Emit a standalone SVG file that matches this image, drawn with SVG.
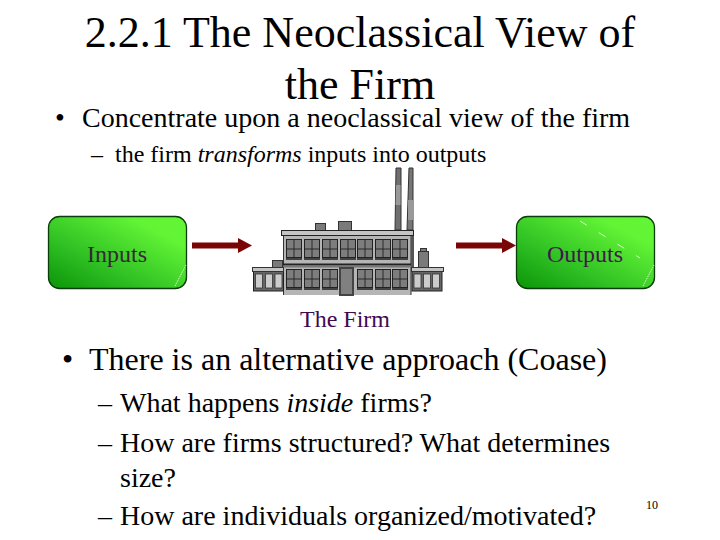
<svg xmlns="http://www.w3.org/2000/svg" width="720" height="540" viewBox="0 0 720 540">
<style>
text{font-family:"Liberation Serif","Times New Roman",serif;fill:#000}
.t{font-size:44px}.b{font-size:28px}.s{font-size:24px}.m{font-size:32px}.n{font-size:28px}.lb{font-size:24px}
.box{stroke:#0b3d0b;stroke-width:1.3}
.d{fill:#7a7a7a;stroke:#333;stroke-width:1}
.w{fill:#7d7d7d;stroke:#222;stroke-width:1}
.wl{stroke:#222;stroke-width:.9}
.sill{stroke:#111;stroke-width:1.4}
.p{fill:#ccc;stroke:#333;stroke-width:.8}
</style>
<defs>
<linearGradient id="gr" x1="0" y1="1" x2="1" y2="0"><stop offset="0" stop-color="#0b9408"/><stop offset=".35" stop-color="#2fc024"/><stop offset=".8" stop-color="#63f535"/><stop offset="1" stop-color="#62f636"/></linearGradient>
<marker id="ah" markerWidth="14" markerHeight="16" refX="0" refY="8" orient="auto" markerUnits="userSpaceOnUse"><path d="M0,0.500L14,8L0,15.500Z" fill="#7a0505"/></marker>
<g id="win"><rect class="w" width="15" height="18" x="0" y="0"/><path class="wl" d="M7.500,0V18M0,9.500H15"/><path class="sill" d="M-0.500,19.500H15.500"/></g>
</defs>
<text class="t" x="360" y="47" text-anchor="middle">2.2.1 The Neoclassical View of</text>
<text class="t" x="360" y="99" text-anchor="middle">the Firm</text>
<text class="b" x="55" y="127">•</text>
<text class="b" x="82" y="127">Concentrate upon a neoclassical view of the firm</text>
<text class="s" x="91" y="162">–</text>
<text class="s" x="115" y="162">the firm <tspan font-style="italic">transforms</tspan> inputs into outputs</text>
<g id="connectors">
<line x1="192" y1="245.500" x2="238" y2="245.500" stroke="#7a0505" stroke-width="6" marker-end="url(#ah)"/>
<line x1="456" y1="245.500" x2="502" y2="245.500" stroke="#7a0505" stroke-width="6" marker-end="url(#ah)"/>
</g>
<g id="inputs">
<rect class="box" x="48.500" y="216.500" width="138" height="72" rx="11" fill="url(#gr)"/>
<path d="M175,286L186,265" stroke="#d8f8c8" stroke-width="1" stroke-dasharray="1.500 1" fill="none"/>
<text class="lb" x="117" y="262" text-anchor="middle" style="fill:#332a33">Inputs</text>
</g>
<g id="outputs">
<rect class="box" x="516.500" y="216.500" width="138" height="72" rx="11" fill="url(#gr)"/>
<path d="M643,286L654,265" stroke="#d8f8c8" stroke-width="1" stroke-dasharray="1.500 1" fill="none"/>
<path d="M580,221L640,258" stroke="#d8f8c8" stroke-width="1" stroke-dasharray="8 14" fill="none"/>
<text class="lb" x="585" y="262" text-anchor="middle" style="fill:#3f1a4a">Outputs</text>
</g>
<g id="firm">
<path fill="#6f6f6f" stroke="#333" d="M396,168h5v62h-6z"/>
<path fill="#999" d="M396,185h4.500v20h-5z"/>
<path fill="#777" stroke="#333" d="M409,168h4v62h-6z"/>
<path fill="#999" d="M408,200h5v20h-5z"/>
<rect class="d" x="315.500" y="223.500" width="10" height="7"/>
<rect class="d" x="338.500" y="221.500" width="13" height="9"/>
<rect class="d" x="272.500" y="260.500" width="10" height="7"/>
<rect class="d" x="418.500" y="251.500" width="10" height="17"/>
<rect class="d" x="420.500" y="248.500" width="6" height="3"/>
<path d="M283.500,295V235H411V295" fill="#b5b5b5" stroke="#333"/>
<rect x="411" y="235" width="3" height="33" fill="#555"/>
<rect x="281.500" y="230.500" width="132" height="5" fill="#c4c4c4" stroke="#222"/>
<path d="M283,264.500H411" stroke="#222" stroke-width="2"/>
<path d="M283,266.500H411" stroke="#777" stroke-width="2"/>
<use href="#win" x="286.500" y="239.500"/><use href="#win" x="304.500" y="239.500"/><use href="#win" x="322.500" y="239.500"/><use href="#win" x="340.500" y="239.500"/><use href="#win" x="357.500" y="239.500"/><use href="#win" x="375.500" y="239.500"/><use href="#win" x="392.500" y="239.500"/>
<use href="#win" x="286.500" y="269.500"/><use href="#win" x="304.500" y="269.500"/><use href="#win" x="322.500" y="269.500"/><use href="#win" x="357.500" y="269.500"/><use href="#win" x="375.500" y="269.500"/><use href="#win" x="392.500" y="269.500"/>
<rect x="340" y="268" width="13" height="27" fill="#808080" stroke="#444" stroke-width="2"/>
<rect x="253.500" y="271" width="30" height="20" fill="#666" stroke="#222"/>
<rect x="252.500" y="267.500" width="31" height="4" fill="#c4c4c4" stroke="#333"/>
<rect class="p" x="255.500" y="274" width="7" height="14"/><rect class="p" x="265.500" y="274" width="7" height="14"/><rect class="p" x="275" y="274" width="7" height="14"/>
<rect x="412" y="271" width="30" height="20" fill="#666" stroke="#222"/>
<rect x="411.500" y="267.500" width="32" height="4" fill="#c4c4c4" stroke="#333"/>
<rect class="p" x="414" y="274" width="7" height="14"/><rect class="p" x="423.500" y="274" width="7" height="14"/><rect class="p" x="432.500" y="274" width="7" height="14"/>
<text class="lb" x="345" y="327" text-anchor="middle" style="fill:#3f0a50">The Firm</text>
</g>
<text class="m" x="62" y="370">•</text>
<text class="m" x="89" y="370">There is an alternative approach (Coase)</text>
<text class="n" x="98" y="412">–</text><text class="n" x="120" y="412">What happens <tspan font-style="italic">inside</tspan> firms?</text>
<text class="n" x="98" y="452">–</text><text class="n" x="120" y="452">How are firms structured? What determines</text>
<text class="n" x="120" y="487">size?</text>
<text class="n" x="98" y="525">–</text><text class="n" x="120" y="525">How are individuals organized/motivated?</text>
<text x="652" y="509" text-anchor="middle" style="font-size:12px">10</text>
</svg>
